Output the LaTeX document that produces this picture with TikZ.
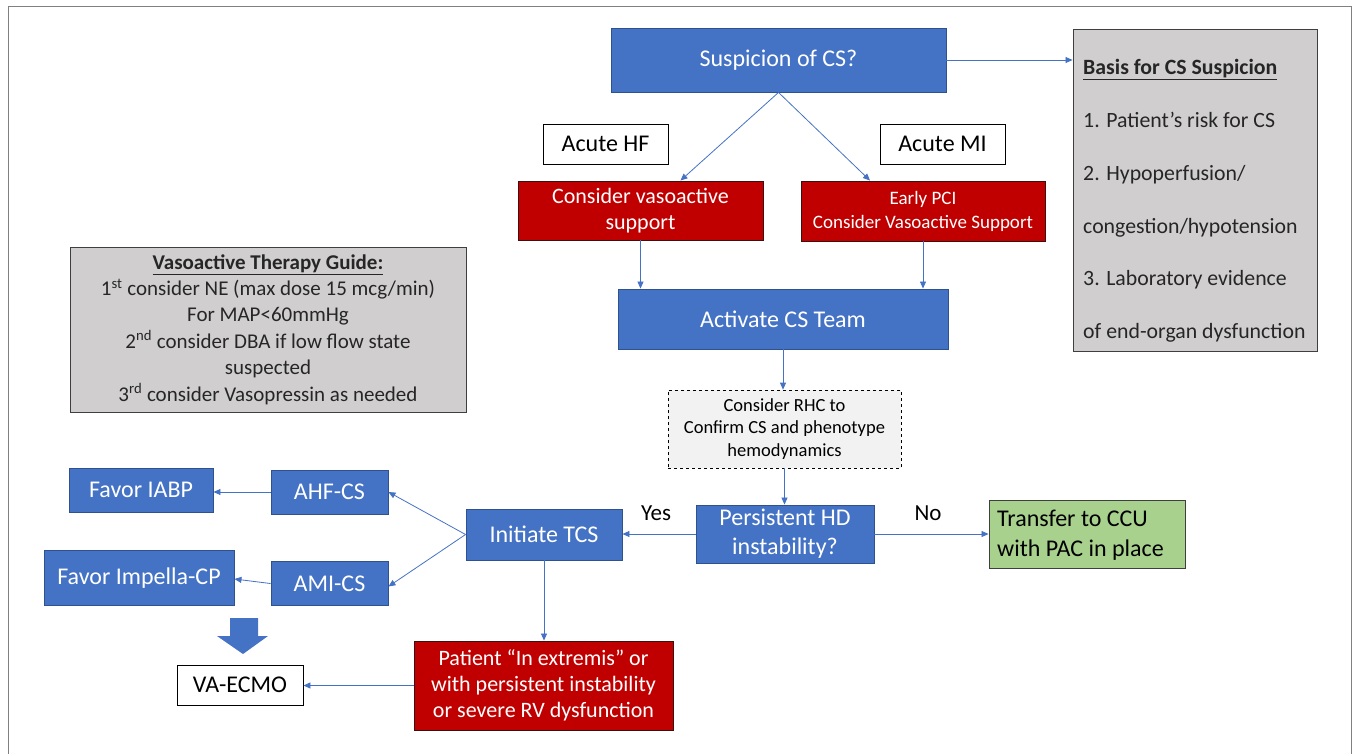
\documentclass[tikz,border=0pt]{standalone}
\usepackage{fontspec}
\setmainfont{Carlito}
\usetikzlibrary{arrows.meta}
\definecolor{cblue}{HTML}{4472C4}
\definecolor{cbluedark}{HTML}{2F528F}
\definecolor{cred}{HTML}{C00000}
\definecolor{credd}{HTML}{3A1010}
\definecolor{cgray}{HTML}{D0CECE}
\definecolor{cgrayd}{HTML}{3F3F3F}
\definecolor{cgreen}{HTML}{A9D18E}
\definecolor{cdash}{HTML}{F2F2F2}
\definecolor{ctext}{HTML}{262626}
\definecolor{cframe}{HTML}{808080}
\tikzset{
  sz/.style 2 args={minimum width=#1pt, minimum height=#2pt},
  base/.style={draw, line width=0.9pt, inner sep=0pt, align=center},
  bluebox/.style={base, fill=cblue, draw=cbluedark, text=white, font=\fontsize{24}{29}\selectfont},
  redbox/.style={base, fill=cred, draw=credd, text=white},
  whitebox/.style={base, fill=white, draw=black, text=black, font=\fontsize{24}{29}\selectfont},
  graybox/.style={base, fill=cgray, draw=cgrayd, text=ctext},
  conn/.style={draw=cblue, line width=0.8pt, -{Triangle[length=7pt,width=6pt]}},
  lbl/.style={text=black, font=\fontsize{23}{28}\selectfont, inner sep=0pt},
}
\begin{document}
\begin{tikzpicture}[x=1pt,y=-1pt]
\useasboundingbox (0,0) rectangle (1357,753);
\draw[cframe, line width=1pt] (8,760) -- (8,6) -- (1351,6) -- (1351,760);

% nodes
\node[bluebox, sz={335}{64}] (susp) at (778.5,60) {Suspicion of CS?};
\node[graybox, sz={244}{322}] (basis) at (1195,190) {};
\node[anchor=west, align=left, text=ctext, inner sep=0pt, font=\fontsize{21.8}{52.8}\selectfont] (basistxt) at (1083,201)
  {\textbf{\underline{Basis for CS Suspicion}}\\
   1. Patient’s risk for CS\\
   2. Hypoperfusion/\\
   congestion/hypotension\\
   3. Laboratory evidence\\
   of end-organ dysfunction};
\node[whitebox, sz={125}{40}] (hf) at (605.5,144) {Acute HF};
\node[whitebox, sz={125}{40}] (mi) at (942.5,144) {Acute MI};
\node[redbox, sz={245}{59}, font=\fontsize{22}{26}\selectfont] (cva) at (640.5,210.5) {Consider vasoactive\\support};
\node[redbox, sz={244}{60}, font=\fontsize{19}{24}\selectfont] (pci) at (923,211) {Early PCI\\Consider Vasoactive Support};
\node[bluebox, sz={330}{60}] (act) at (783,319) {Activate CS Team};
\node[graybox, sz={396}{165}, font=\fontsize{21}{26.4}\selectfont] (guide) at (268,329.5)
  {\textbf{\underline{Vasoactive Therapy Guide:}}\\
   1\textsuperscript{st} consider NE (max dose 15 mcg/min)\\
   For MAP<60mmHg\\
   2\textsuperscript{nd} consider DBA if low flow state\\
   suspected\\
   3\textsuperscript{rd} consider Vasopressin as needed};
\node[base, draw=black, dashed, line width=0.7pt, fill=cdash, text=black, sz={233}{78}, font=\fontsize{18.5}{22.5}\selectfont] (rhc) at (784.5,429)
  {Consider RHC to\\Confirm CS and phenotype\\hemodynamics};
\node[bluebox, sz={178}{58}] (phd) at (785,534) {Persistent HD\\instability?};
\node[bluebox, sz={156}{51}] (tcs) at (544,534.5) {Initiate TCS};
\node[base, fill=cgreen, draw=cgrayd, sz={196}{68}] (ccu) at (1087,534) {};
\node[anchor=west, align=left, text=black, inner sep=0pt, font=\fontsize{24}{29.5}\selectfont] (ccutxt) at (997,535)
  {Transfer to CCU\\with PAC in place};
\node[bluebox, sz={117}{44}] (ahf) at (329.5,492) {AHF-CS};
\node[bluebox, sz={117}{44}] (ami) at (329.5,583.5) {AMI-CS};
\node[bluebox, sz={144}{44}] (iabp) at (141,490) {Favor IABP};
\node[bluebox, sz={190}{55}] (imp) at (139,578) {Favor Impella-CP};
\node[whitebox, sz={126}{40}] (ecmo) at (240,685) {VA-ECMO};
\node[redbox, sz={259}{89}, font=\fontsize{22}{26}\selectfont] (pat) at (543.5,685.5)
  {Patient “In extremis” or\\with persistent instability\\or severe RV dysfunction};

\node[lbl] (yes) at (656,513) {Yes};
\node[lbl] (no) at (928,513) {No};

% block arrow
\fill[cblue] (230,618) -- (258,618) -- (258,636) -- (268,636) -- (243,654) -- (217,636) -- (230,636) -- cycle;

% connectors
\draw[conn] (susp.east) -- (basis.west |- susp.east);
\draw[conn] (susp.south) -- ([xshift=40pt]cva.north);
\draw[conn] (susp.south) -- ([xshift=-53pt]pci.north);
\draw[conn] (cva.south) -- (cva.south |- act.north);
\draw[conn] (pci.south) -- (pci.south |- act.north);
\draw[conn] (act.south) -- (act.south |- rhc.north);
\draw[conn] (rhc.south) -- (rhc.south |- phd.north);
\draw[conn] (phd.west) -- (phd.west -| tcs.east);
\draw[conn] (phd.east) -- (phd.east -| ccu.west);
\draw[conn] (tcs.west) -- (ahf.east);
\draw[conn] (tcs.west) -- ([yshift=-3pt]ami.east);
\draw[conn] (ahf.west) -- (ahf.west -| iabp.east);
\draw[conn] (ami.west) -- ([yshift=-1pt]imp.east);
\draw[conn] (tcs.south) -- (tcs.south |- pat.north);
\draw[conn] (pat.west) -- (pat.west -| ecmo.east);
\end{tikzpicture}
\end{document}
